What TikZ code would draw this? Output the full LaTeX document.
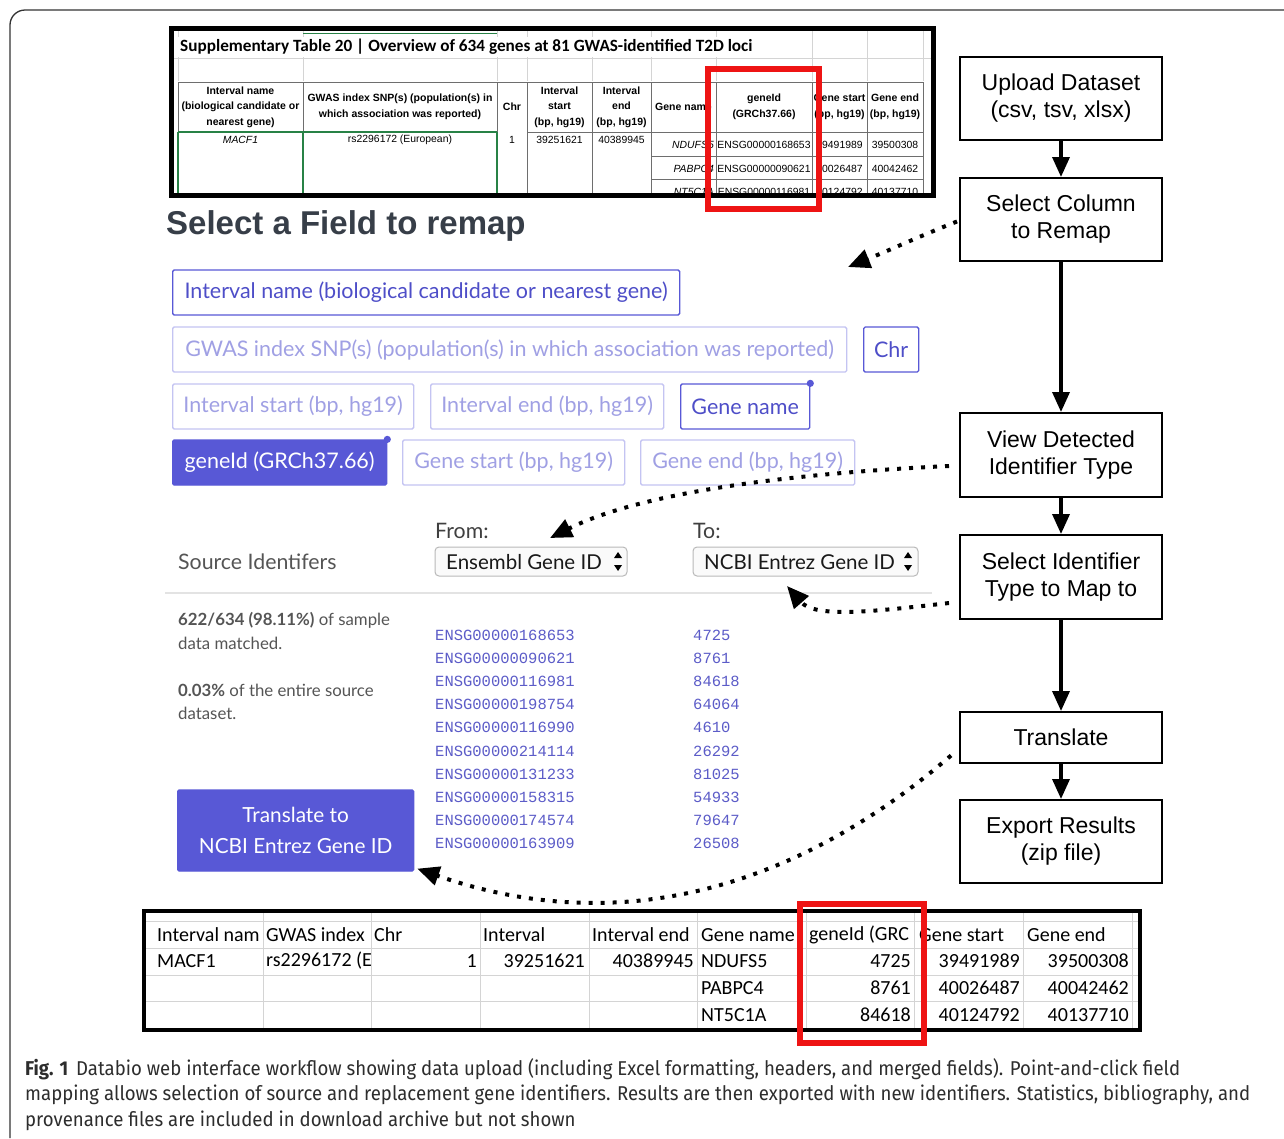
\documentclass[tikz,border=0pt]{standalone}
\usepackage{fontspec}
\setmainfont{Liberation Sans}
\newfontfamily\uifont{Lato}
\newfontfamily\calfont{Carlito}
\newfontfamily\idfont{Liberation Mono}
\newfontfamily\capfont[FakeStretch=0.93]{Fira Sans}
\usetikzlibrary{arrows.meta,calc}
\newcommand\fsz[2]{\fontsize{#1}{#2}\selectfont}
\definecolor{uip}{RGB}{88,88,214}
\definecolor{uitext}{RGB}{78,78,200}
\definecolor{uilight}{RGB}{196,196,242}
\definecolor{uilighttext}{RGB}{160,160,228}
\definecolor{gridgray}{RGB}{212,212,212}
\definecolor{hdrline}{RGB}{110,110,110}
\definecolor{xlgreen}{RGB}{40,130,70}
\definecolor{redbox}{RGB}{238,20,20}
\definecolor{uigray}{RGB}{85,85,85}
\definecolor{monop}{RGB}{92,92,200}
\definecolor{slate}{RGB}{55,62,72}
\definecolor{capgray}{RGB}{45,45,45}
\tikzset{
  flowbox/.style={draw, line width=2pt, minimum width=202pt, align=center, font=\fsz{23}{27}, inner sep=0pt},
  flowarrow/.style={line width=3.5pt, -{Triangle[length=20pt,width=17pt]}},
  dotarrow/.style={line width=4pt, dash pattern=on 4pt off 8pt, -{Triangle[length=22pt,width=19pt]}},
  hdr/.style={font=\bfseries\fsz{10.5}{15.5}, align=center, inner sep=0pt},
  cell/.style={font=\fsz{10.4}{12}, inner sep=0pt},
  ubtn/.style={rounded corners=1.5pt, line width=1.3pt, minimum height=45pt, inner sep=0pt, font=\uifont\fsz{21.5}{24}, anchor=west},
  uon/.style={ubtn, draw=uip, text=uitext},
  uoff/.style={ubtn, draw=uilight, text=uilighttext},
  ufill/.style={ubtn, draw=uip, fill=uip, text=white},
  xl/.style={font=\calfont\fsz{20}{24}, inner sep=0pt},
  idtxt/.style={font=\idfont\fsz{15.5}{18}, text=monop, inner sep=0pt, anchor=west},
  uilabel/.style={font=\uifont\fsz{21.3}{24}, text=uigray, inner sep=0pt, anchor=west},
  ddlabel/.style={font=\uifont\fsz{20.5}{24}, text=black!90, inner sep=0pt, anchor=west},
  stat/.style={font=\uifont\fsz{16.8}{20}, text=uigray, inner sep=0pt, anchor=west},
  dropbox/.style={draw=gray!55, fill=gray!4, rounded corners=4pt, line width=1pt, minimum height=29pt, inner sep=0pt},
  capline/.style={font=\capfont\fsz{20}{24}, text=capgray, inner sep=0pt, anchor=west},
}
\begin{document}
\begin{tikzpicture}[x=1pt,y=-1pt]
\useasboundingbox (0,0) rectangle (1284,1138);
\fill[white] (0,0) rectangle (1284,1138);
% outer frame
\draw[line width=1.3pt, black!80, rounded corners=15pt] (10,1138) -- (10,10) -- (1284,10);

% ===== top spreadsheet =====
\fill[white] (171,28) rectangle (933,195);
\begin{scope}
\clip (172,30) rectangle (931,193);
\foreach \x in {178,303,497,527,592,651,716,812,867,923}{\draw[gridgray,line width=0.8pt] (\x,29) -- (\x,81);}
\draw[gridgray,line width=0.8pt] (172,58) -- (932,58);
\draw[xlgreen,line width=1pt] (303,33) -- (497,33);
\node[anchor=west, fill=white, inner xsep=2pt, inner ysep=2pt, font=\calfont\bfseries\fsz{17.2}{20}] (ttitle) at (178,47) {Supplementary Table 20 | Overview of 634 genes at 81 GWAS-identified T2D loci};
\draw[hdrline, line width=0.9pt] (178,82) -- (923,82) (527,132) -- (923,132);
\foreach \x in {527,592,651,716,812,867,923}{\draw[hdrline,line width=0.9pt] (\x,82) -- (\x,195);}
\foreach \x in {178,303,497}{\draw[hdrline,line width=0.9pt] (\x,82) -- (\x,132);}
\foreach \x in {178,303,497}{\draw[xlgreen,line width=1.1pt] (\x,132) -- (\x,195);}
\draw[xlgreen,line width=1.1pt] (178,132) -- (497,132);
\draw[hdrline, line width=0.9pt] (651,156) -- (923,156) (651,179) -- (923,179);
\node[hdr] (h1) at (240.5,107) {Interval name\\(biological candidate or\\nearest gene)};
\node[hdr] (h2) at (400,107) {GWAS index SNP(s) (population(s) in\\which association was reported)};
\node[hdr] (h3) at (512,107) {Chr};
\node[hdr] (h4) at (559.5,107) {Interval\\start\\(bp, hg19)};
\node[hdr] (h5) at (621.5,107) {Interval\\end\\(bp, hg19)};
\node[hdr] (h6) at (683.5,107) {Gene name};
\node[hdr] (h7) at (764,107) {geneId\\(GRCh37.66)};
\node[hdr] (h8) at (839.5,107) {Gene start\\(bp, hg19)};
\node[hdr] (h9) at (895,107) {Gene end\\(bp, hg19)};
\node[cell, font=\itshape\fsz{10.4}{12}] (d1) at (240.5,140) {MACF1};
\node[cell] (d2) at (400,140) {rs2296172 (European)};
\node[cell] (d3) at (512,140) {1};
\node[cell] (d4) at (559.5,140) {39251621};
\node[cell] (d5) at (621.5,140) {40389945};
\foreach \g/\e/\s/\t [count=\i] in {NDUFS5/ENSG00000168653/39491989/39500308, PABPC4/ENSG00000090621/40026487/40042462, NT5C1A/ENSG00000116981/40124792/40137710}{
  \pgfmathsetmacro\yy{145+23.5*(\i-1)}
  \node[cell, font=\itshape\fsz{10.4}{12}, anchor=east] (g\i) at (714,\yy) {\g};
  \node[cell] (e\i) at (764,\yy) {\e};
  \node[cell] (s\i) at (839.5,\yy) {\s};
  \node[cell] (t\i) at (895,\yy) {\t};
}
\end{scope}
\draw[line width=5pt] (171,28.5) rectangle (933,195);
\draw[redbox, line width=6pt] (707.5,68.5) rectangle (818.5,209);

% ===== UI =====
\node[anchor=west, inner sep=0pt, font=\bfseries\fsz{33}{36}, text=slate] (uititle) at (166,226) {Select a Field to remap};
\node[uon, minimum width=507pt] (b1) at (172,292.5) {Interval name (biological candidate or nearest gene)};
\node[uoff, minimum width=674pt] (b2) at (172,349.5) {GWAS index SNP(s) (population(s) in which association was reported)};
\node[uon, minimum width=55pt] (b3) at (863,349.5) {Chr};
\node[uoff, minimum width=241pt] (b4) at (172,406.5) {Interval start (bp, hg19)};
\node[uoff, minimum width=233pt] (b5) at (430,406.5) {Interval end (bp, hg19)};
\node[uon, minimum width=129pt] (b6) at (680,406.5) {Gene name};
\node[ufill, minimum width=214pt] (b7) at (172,462.5) {geneId (GRCh37.66)};
\node[uoff, minimum width=222pt] (b8) at (402,462.5) {Gene start (bp, hg19)};
\node[uoff, minimum width=214pt] (b9) at (640,462.5) {Gene end (bp, hg19)};
\fill[uip] (b6.north east) circle (3.6pt);
\fill[uip] (b7.north east) circle (3.6pt);

\node[uilabel, text=black!75] (from) at (435,531) {From:};
\node[uilabel, text=black!75] (to) at (693,531) {To:};
\node[uilabel] (srcid) at (178,562) {Source Identifers};
\node[dropbox, minimum width=192pt] (dd1) at (531,561.5) {};
\node[ddlabel] (dd1t) at (446,562) {Ensembl Gene ID};
\fill (614,558) -- (622,558) -- (618,552) -- cycle;
\fill (614,565) -- (622,565) -- (618,571) -- cycle;
\node[dropbox, minimum width=225pt] (dd2) at (805.5,561.5) {};
\node[ddlabel] (dd2t) at (704,562) {NCBI Entrez Gene ID};
\fill (904,558) -- (912,558) -- (908,552) -- cycle;
\fill (904,565) -- (912,565) -- (908,571) -- cycle;
\draw[gray!22, line width=1.3pt] (165,593) -- (932,593);

\node[stat] (st1) at (178,620) {\textbf{622/634 (98.11\%)} of sample};
\node[stat] (st2) at (178,643) {data matched.};
\node[stat] (st3) at (178,690) {\textbf{0.03\%} of the entire source};
\node[stat] (st4) at (178,713) {dataset.};
\foreach \id/\num [count=\i] in {ENSG00000168653/4725, ENSG00000090621/8761, ENSG00000116981/84618, ENSG00000198754/64064, ENSG00000116990/4610, ENSG00000214114/26292, ENSG00000131233/81025, ENSG00000158315/54933, ENSG00000174574/79647, ENSG00000163909/26508}{
  \pgfmathsetmacro\yy{635+23.2*(\i-1)}
  \node[idtxt] (id\i) at (435,\yy) {\id};
  \node[idtxt] (num\i) at (693,\yy) {\num};
}
\node[ufill, minimum width=236pt, minimum height=81pt, align=center, font=\uifont\fsz{20.8}{31}] (tbtn) at (177,830.5) {Translate to\\NCBI Entrez Gene ID};

% ===== bottom spreadsheet =====
\fill[white] (144,911) rectangle (1140,1030);
\foreach \x in {263,371,480,589,697,806,914,1023,1132}{\draw[gridgray, line width=0.9pt] (\x,913) -- (\x,1028);}
\foreach \y in {921,948,975,1001}{\draw[gridgray, line width=0.9pt] (146,\y) -- (1138,\y);}
\node[xl, anchor=west] (x1) at (157,935) {Interval nam};
\node[xl, anchor=west] (x2) at (266,935) {GWAS index};
\node[xl, anchor=west] (x3) at (374,935) {Chr};
\node[xl, anchor=west] (x4) at (483,935) {Interval};
\node[xl, anchor=west] (x5) at (592,935) {Interval end};
\node[xl, anchor=west] (x6) at (701,935) {Gene name};
\node[xl, anchor=west] (x7) at (809,935) {geneId (GRC};
\node[xl, anchor=west] (x8) at (919,935) {Gene start};
\node[xl, anchor=west] (x9) at (1027,935) {Gene end};
\node[xl, anchor=west] (x10) at (157,961) {MACF1};
\node[xl, anchor=west] (x11) at (266,961) {rs2296172 (E};
\node[xl, anchor=east] (x12) at (477,961) {1};
\node[xl, anchor=east] (x13) at (585,961) {39251621};
\node[xl, anchor=east] (x14) at (694,961) {40389945};
\foreach \g/\n/\s/\t [count=\i] in {NDUFS5/4725/39491989/39500308, PABPC4/8761/40026487/40042462, NT5C1A/84618/40124792/40137710}{
  \pgfmathsetmacro\yy{961+27*(\i-1)}
  \node[xl, anchor=west] (bg\i) at (701,\yy) {\g};
  \node[xl, anchor=east] (bn\i) at (911,\yy) {\n};
  \node[xl, anchor=east] (bs\i) at (1020,\yy) {\s};
  \node[xl, anchor=east] (bt\i) at (1129,\yy) {\t};
}
\draw[line width=4pt] (144,911) rectangle (1140,1030);
\draw[redbox, line width=6pt] (800,904) rectangle (924,1043);

% ===== flow boxes =====
\node[flowbox, minimum height=83pt] (up) at (1061,98.5) {Upload Dataset\\(csv, tsv, xlsx)};
\node[flowbox, minimum height=83pt] (sc) at (1061,219.5) {Select Column\\to Remap};
\node[flowbox, minimum height=84pt] (vd) at (1061,455) {View Detected\\Identifier Type};
\node[flowbox, minimum height=84pt] (si) at (1061,577) {Select Identifier\\Type to Map to};
\node[flowbox, minimum height=51pt] (tr) at (1061,737.5) {Translate};
\node[flowbox, minimum height=83pt] (ex) at (1061,841.5) {Export Results\\(zip file)};
\draw[flowarrow] (up) -- (sc);
\draw[flowarrow] (sc) -- (vd);
\draw[flowarrow] (vd) -- (si);
\draw[flowarrow] (si) -- (tr);
\draw[flowarrow] (tr) -- (ex);

% ===== dotted connectors =====
\coordinate (a1) at (848,267);
\coordinate (a2) at (550,538);
\coordinate (a3) at (787,586);
\draw[dotarrow] ($(sc.west)+(-2,2)$) .. controls (920,236) and (890,250) .. (a1);
\draw[dotarrow] ($(vd.west)+(-10,11)$) .. controls (820,472) and (650,488) .. (a2);
\draw[dotarrow] ($(si.west)+(-10,26)$) .. controls (870,612) and (815,618) .. (a3);
\draw[dotarrow] ($(tr.west)+(-8,18)$) .. controls (830,860) and (650,950) .. ($(tbtn.south east)+(3,-3)$);

% ===== caption =====
\node[capline] (cap1) at (25,1069) {\textbf{Fig. 1}\hspace{8pt}Databio web interface workflow showing data upload (including Excel formatting, headers, and merged fields). Point-and-click field};
\node[capline] (cap2) at (25,1095) {mapping allows selection of source and replacement gene identifiers. Results are then exported with new identifiers. Statistics, bibliography, and};
\node[capline] (cap3) at (25,1121) {provenance files are included in download archive but not shown};
\end{tikzpicture}
\end{document}
